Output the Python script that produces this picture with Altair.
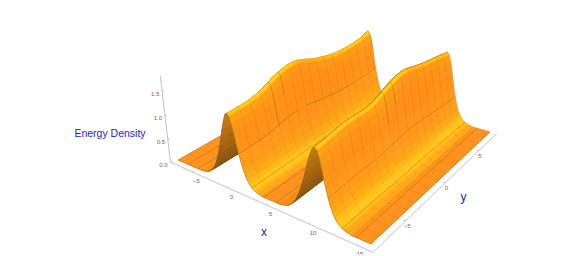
import math
import altair as alt

# x, y grid of the surface
x_vals = [-8 + 0.25 * i for i in range(97)]
y_vals = [-8 + 0.5 * j for j in range(33)]

# crest height read along each ridge, one value per y
crest_1 = [1.42,1.424,1.428,1.432,1.445,1.468,1.497,1.535,1.59,1.65,1.69,1.72,1.74,1.743,1.73,1.70,1.66,
           1.62,1.58,1.555,1.53,1.505,1.485,1.47,1.463,1.46,1.46,1.463,1.47,1.483,1.505,1.535,1.571]
crest_2 = [1.37,1.385,1.40,1.42,1.435,1.45,1.458,1.46,1.458,1.455,1.452,1.456,1.48,1.52,1.565,1.61,1.65,
           1.685,1.71,1.72,1.71,1.685,1.655,1.632,1.61,1.59,1.575,1.56,1.55,1.53,1.515,1.497,1.48]
# cross-section of a ridge against distance from its centre (steps of 0.25)
profile = [1,.97,.88,.76,.62,.49,.38,.28,.20,.14,.095,.065,.04,.025,.015,.008,0]
ridge_index = [31, 72]  # grid columns of x = -0.25 and x = 10

x_ticks = [-5, 0, 5, 10, 15]
y_ticks = [-5, 0, 5]
z_ticks = [0.0, 0.5, 1.0, 1.5]
z_top = 1.8

# camera
A, B, C, D = (178, 160), (371, 244), (490, 132), (315.2, 82.3)
WA, WB, WC, WD = 1.25, 1.0, 1.3, 1.55
ZD, VX, VY = 0.047, 310, 1340


def hom(u, v):
    a, b, c, d = (1-u)*(1-v)*WA, u*(1-v)*WB, u*v*WC, (1-u)*v*WD
    return (a*A[0]+b*B[0]+c*C[0]+d*D[0], a*A[1]+b*B[1]+c*C[1]+d*D[1], a+b+c+d)


def proj(x, y, z=0.0):
    hx, hy, w = hom((x+8)/24, (y+8)/16)
    w2 = w - ZD*z
    return (round((hx-ZD*z*VX)/w2, 2), round((hy-ZD*z*VY)/w2, 2), w2)


def proj_uv(u, v, z=0.0):
    return proj(u*24-8, v*16-8, z)


def p_at(i, c):
    d = abs(i-c)
    return profile[d] if d < len(profile) else 0.0


Z = [[crest_1[j]*p_at(i, ridge_index[0]) + crest_2[j]*p_at(i, ridge_index[1]) for j in range(33)] for i in range(97)]

STOPS = [(0.45, (236, 134, 16)), (0.75, (255, 144, 24)), (0.88, (255, 170, 20)), (1.0, (255, 210, 28))]
L = (0.6, -0.25, 0.75)


def mix(stops, t):
    if t <= stops[0][0]:
        c = stops[0][1]
    elif t >= stops[-1][0]:
        c = stops[-1][1]
    else:
        for (a, ca), (b, cb) in zip(stops, stops[1:]):
            if a <= t <= b:
                f = (t-a)/(b-a)
                c = tuple(ca[k]+(cb[k]-ca[k])*f for k in range(3))
                break
    return "#%02x%02x%02x" % tuple(int(round(k)) for k in c)


BROWN = [(0.0, (120, 78, 20)), (0.5, (165, 100, 18)), (1.0, (200, 125, 20))]
items = []


def feature(kind, coords, fill, stroke, w):
    return {"type": "Feature",
            "geometry": {"type": kind, "coordinates": coords},
            "properties": {"f": fill, "s": stroke, "w": w}}


for i in range(96):
    for j in range(32):
        zs = [Z[i][j], Z[i+1][j], Z[i+1][j+1], Z[i][j+1]]
        pts = [proj(x_vals[i], y_vals[j], zs[0]), proj(x_vals[i+1], y_vals[j], zs[1]),
               proj(x_vals[i+1], y_vals[j+1], zs[2]), proj(x_vals[i], y_vals[j+1], zs[3])]
        depth = sum(p[2] for p in pts)/4
        area = sum(pts[k][0]*pts[(k+1) % 4][1]-pts[(k+1) % 4][0]*pts[k][1] for k in range(4))
        sx = ((zs[1]+zs[2])-(zs[0]+zs[3]))/2/0.25*(0.4/1.8)*24
        sy = ((zs[2]+zs[3])-(zs[0]+zs[1]))/2/0.5*(0.4/1.8)*16
        n = math.sqrt(sx*sx+sy*sy+1)
        lam = (-sx*L[0]-sy*L[1]+L[2])/n
        if area > 0:
            col = mix(BROWN, sum(zs)/4/1.4)
        else:
            col = mix(STOPS, lam)
        ring = [[p[0], p[1]] for p in pts]
        ring.append(ring[0])
        items.append((depth, feature("Polygon", [ring], col, col, 0.6)))

MESH = "rgba(95,80,40,0.5)"
for i in range(0, 97, 6):
    for j in range(32):
        a, b = proj(x_vals[i], y_vals[j], Z[i][j]), proj(x_vals[i], y_vals[j+1], Z[i][j+1])
        items.append(((a[2]+b[2])/2-0.004, feature("LineString", [[a[0], a[1]], [b[0], b[1]]], "transparent", MESH, 0.6)))
for j in range(0, 33, 2):
    for i in range(96):
        a, b = proj(x_vals[i], y_vals[j], Z[i][j]), proj(x_vals[i+1], y_vals[j], Z[i+1][j])
        items.append(((a[2]+b[2])/2-0.004, feature("LineString", [[a[0], a[1]], [b[0], b[1]]], "transparent", MESH, 0.6)))

items.sort(key=lambda t: -t[0])

AXIS = "#b4b4b4"
axes = []


def axis_line(p, q):
    axes.append(feature("LineString", [[p[0], p[1]], [q[0], q[1]]], "transparent", AXIS, 0.8))


c0 = proj_uv(-0.013, -0.032)
c1 = proj_uv(1.03, -0.035)
c2 = proj_uv(1.03, 1.005)
axis_line(c0, c1)
axis_line(c1, c2)
axis_line(c0, proj_uv(-0.013, -0.032, z_top))
texts = []
for t in x_ticks:
    u = (t+8)/24
    p = proj_uv(u, -0.032)
    axis_line(p, proj_uv(u, -0.022))
    texts.append({"px": p[0]+4, "py": p[1]+9.5, "t": str(t).replace("-", "\u2212")})
for t in y_ticks:
    v = (t+8)/16
    p = proj_uv(1.03, v)
    axis_line(p, proj_uv(1.02, v))
    texts.append({"px": p[0]+1.5, "py": p[1]+5, "t": str(t).replace("-", "\u2212")})
for t in z_ticks:
    p = proj_uv(-0.013, -0.032, t)
    axis_line(p, (p[0]+2, p[1]-0.5))
    texts.append({"px": p[0]-7, "py": p[1]+2.5, "t": "%.1f" % t})

titles = [{"px": 110, "py": 134, "t": "Energy  Density", "s": 10.5},
          {"px": 264, "py": 232, "t": "x", "s": 12},
          {"px": 463.5, "py": 197, "t": "y", "s": 12}]

features = axes + [f for _, f in items]

X = alt.X("px:Q", scale=alt.Scale(domain=[8, 558], range=[0, 550]), axis=None)
Y = alt.Y("py:Q", scale=alt.Scale(domain=[8, 255], range=[0, 247]), axis=None)

surface = alt.Chart(alt.Data(values=features)).mark_geoshape().encode(
    fill=alt.Fill("properties.f:N", scale=None, legend=None),
    stroke=alt.Stroke("properties.s:N", scale=None, legend=None),
    strokeWidth=alt.StrokeWidth("properties.w:Q", scale=None, legend=None),
).project(type="identity", scale=1, translate=[-8, -8])

tick_text = alt.Chart(alt.Data(values=texts)).mark_text(
    font="Liberation Sans", fontSize=6, color="#666666", align="center", baseline="middle"
).encode(x=X, y=Y, text="t:N")

title_text = alt.Chart(alt.Data(values=titles)).mark_text(
    font="Liberation Sans", color="#1a1ad6", align="center", baseline="middle"
).encode(x=X, y=Y, text="t:N", size=alt.Size("s:Q", scale=None, legend=None))

chart = alt.layer(surface, tick_text, title_text).properties(
    width=550, height=247, padding=0, autosize=alt.AutoSizeParams(type="none"), background="white"
).configure_view(stroke=None)

chart.save("out.html", embed_options={"renderer": "svg", "actions": False})
